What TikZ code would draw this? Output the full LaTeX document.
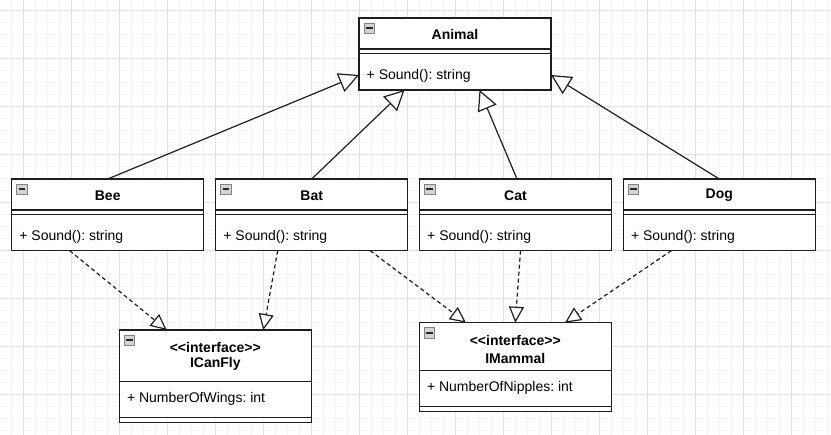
\documentclass[tikz,border=0pt]{standalone}
\usepackage{fontspec}
\setmainfont{Liberation Sans}
\frenchspacing
\usetikzlibrary{arrows.meta,calc}
\definecolor{gridmajor}{RGB}{226,226,226}
\definecolor{gridminor}{RGB}{245,245,245}
\definecolor{iconfill}{RGB}{212,212,212}
\definecolor{iconline}{RGB}{130,130,130}
\definecolor{boxline}{RGB}{30,30,30}
\newcommand\umlicon[1]{%
  \draw[draw=iconline, fill=iconfill, line width=0.9pt] ($(#1.north west)+(5,5.2)$) rectangle +(10.5,10.5);
  \draw[line width=1.9pt, draw=black!85] ($(#1.north west)+(6.8,10.45)$) -- +(6.9,0);}
\newcommand\umldividers[3]{%
  \draw[divider] ($(#1.north west)+(0,#2)$) -- ($(#1.north east)+(0,#2)$);
  \draw[divider] ($(#1.north west)+(0,#3)$) -- ($(#1.north east)+(0,#3)$);}
\begin{document}
\begin{tikzpicture}[x=1pt,y=-1pt,
  classbox/.style={draw=boxline, line width=1.3pt, fill=white, anchor=north west, minimum width=192pt, inner sep=0pt, outer sep=0pt},
  divider/.style={draw=boxline, line width=1.3pt},
  titletext/.style={font=\fontsize{14}{17}\selectfont\bfseries, inner sep=0pt},
  membertext/.style={font=\fontsize{14}{17}\selectfont, anchor=west, inner sep=0pt},
  inherit/.style={draw=boxline, line width=1.2pt, -{Triangle[length=20pt,width=20pt,fill=white]}},
  realize/.style={draw=boxline, line width=1.2pt, dash pattern=on 4pt off 3pt, -{Triangle[length=16pt,width=15pt,fill=white]}},
]
\useasboundingbox (0,0) rectangle (831,435);
\fill[white] (0,0) rectangle (831,435);
% grid
\foreach \k in {0,...,68} {\draw[gridminor, line width=1pt] (11.3+12*\k,0) -- (11.3+12*\k,435);}
\foreach \k in {0,...,35} {\draw[gridminor, line width=1pt] (0,10.3+12*\k) -- (831,10.3+12*\k);}
\foreach \k in {0,...,16} {\draw[gridmajor, line width=1pt] (23.3+48*\k,0) -- (23.3+48*\k,435);}
\foreach \k in {0,...,8} {\draw[gridmajor, line width=1pt] (0,10.3+48*\k) -- (831,10.3+48*\k);}

% classes
\node[classbox, minimum height=72pt] (animal) at (359,18) {};
\umldividers{animal}{31}{35.7}
\umlicon{animal}
\node[titletext] (animalT) at ($(animal.north)+(0,16.5)$) {Animal};
\node[membertext] (animalM) at ($(animal.north west)+(7.5,58.3)$) {+ Sound(): string};

\node[classbox, minimum height=71.7pt] (bee) at (11.7,179) {};
\umldividers{bee}{31}{35.3}
\umlicon{bee}
\node[titletext] (beeT) at ($(bee.north)+(0,16.5)$) {Bee};
\node[membertext] (beeM) at ($(bee.north west)+(7.5,58.3)$) {+ Sound(): string};

\node[classbox, minimum height=71.7pt] (bat) at (215.7,179) {};
\umldividers{bat}{31}{35.3}
\umlicon{bat}
\node[titletext] (batT) at ($(bat.north)+(0,16.5)$) {Bat};
\node[membertext] (batM) at ($(bat.north west)+(7.5,58.3)$) {+ Sound(): string};

\node[classbox, minimum height=71.7pt] (cat) at (419.5,179) {};
\umldividers{cat}{31}{35.3}
\umlicon{cat}
\node[titletext] (catT) at ($(cat.north)+(0,16.5)$) {Cat};
\node[membertext] (catM) at ($(cat.north west)+(7.5,58.3)$) {+ Sound(): string};

\node[classbox, minimum height=71.7pt] (dog) at (623.3,179) {};
\umldividers{dog}{31}{35.3}
\umlicon{dog}
\node[titletext] (dogT) at ($(dog.north)+(0,16.5)$) {Dog};
\node[membertext] (dogM) at ($(dog.north west)+(7.5,58.3)$) {+ Sound(): string};

\node[classbox, minimum height=92.3pt] (icanfly) at (119.3,330) {};
\umldividers{icanfly}{51.3}{87.3}
\umlicon{icanfly}
\node[titletext] (icanflyS) at ($(icanfly.north)+(0,17)$) {<\kern0pt<interface>\kern0pt>};
\node[titletext] (icanflyT) at ($(icanfly.north)+(0,34)$) {ICanFly};
\node[membertext] (icanflyM) at ($(icanfly.north west)+(7.5,69.3)$) {+ NumberOfWings: int};

\node[classbox, minimum height=88.7pt] (imammal) at (419.3,322.7) {};
\umldividers{imammal}{48}{84}
\umlicon{imammal}
\node[titletext] (imammalS) at ($(imammal.north)+(0,17.3)$) {<\kern0pt<interface>\kern0pt>};
\node[titletext] (imammalT) at ($(imammal.north)+(0,35.3)$) {IMammal};
\node[membertext] (imammalM) at ($(imammal.north west)+(7.5,65.6)$) {+ NumberOfNipples: int};

% generalization
\draw[inherit] (bee.north) -- ([yshift=15pt]animal.south west);
\draw[inherit] (bat.north) -- ([xshift=-50.5pt]animal.south);
\draw[inherit] ([xshift=1.5pt]cat.north) -- ([xshift=24.5pt]animal.south);
\draw[inherit] (dog.north) -- ([yshift=15pt]animal.south east);

% realization
\draw[realize] ([xshift=-38pt]bee.south) -- ([xshift=-48.6pt]icanfly.north);
\draw[realize] ([xshift=-34pt]bat.south) -- ([xshift=48pt]icanfly.north);
\draw[realize] ([xshift=58.5pt]bat.south) -- ([xshift=-49.3pt]imammal.north);
\draw[realize] ([xshift=5pt]cat.south) -- (imammal.north);
\draw[realize] ([xshift=-48pt]dog.south) -- ([xshift=49.7pt]imammal.north);
\end{tikzpicture}
\end{document}
